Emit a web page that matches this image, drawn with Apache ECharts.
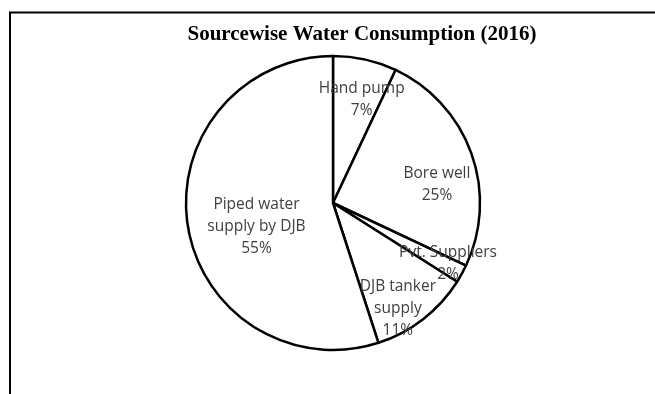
<!DOCTYPE html>
<html>
<head>
<meta charset="utf-8">
<script src="https://cdn.jsdelivr.net/npm/echarts@6/dist/echarts.min.js"></script>
<style>
    html, body { margin: 0; padding: 0; background: #fff; }
    #chart { width: 655px; height: 394px; }
</style>
</head>
<body>
<div id="chart"></div>
<script>
let sources = ['Hand pump', 'Bore well', 'Pvt. Suppliers', 'DJB tanker\nsupply', 'Piped water\nsupply by DJB'];
let shares = [7, 25, 2, 11, 55];

// nudges so the labels sit where the original put them
let labelOffsets = [[12, -29], [32, 7], [48, 24], [18, 45], [-1, 12]];

let pieData = [];
sources.forEach(function (name, i) {
    pieData.push({
        name: name,
        value: shares[i],
        label: { offset: labelOffsets[i] }
    });
});

let chart = echarts.init(document.getElementById('chart'));
chart.setOption({
    animation: false,
    title: {
        text: 'Sourcewise Water Consumption (2016)',
        left: 357,
        textAlign: 'center',
        top: 19,
        textStyle: {
            fontFamily: 'Liberation Serif',
            fontWeight: 'bold',
            fontSize: 21,
            color: '#000'
        }
    },
    graphic: [
        {
            type: 'polyline',
            shape: { points: [[10, 394], [10, 12.5], [655, 12.5]] },
            style: { stroke: '#000', lineWidth: 2, fill: null }
        }
    ],
    series: [{
        type: 'pie',
        center: [333, 203],
        radius: 147,
        startAngle: 90,
        clockwise: true,
        avoidLabelOverlap: false,
        labelLayout: { hideOverlap: false },
        itemStyle: {
            color: '#fff',
            borderColor: '#000',
            borderWidth: 2.5
        },
        label: {
            show: true,
            position: 'inside',
            formatter: '{b}\n{d}%',
            fontFamily: 'Open Sans',
            fontSize: 15.5,
            lineHeight: 22,
            color: '#404040'
        },
        labelLine: { show: false },
        emphasis: { disabled: true },
        data: pieData
    }]
});
</script>
</body>
</html>
